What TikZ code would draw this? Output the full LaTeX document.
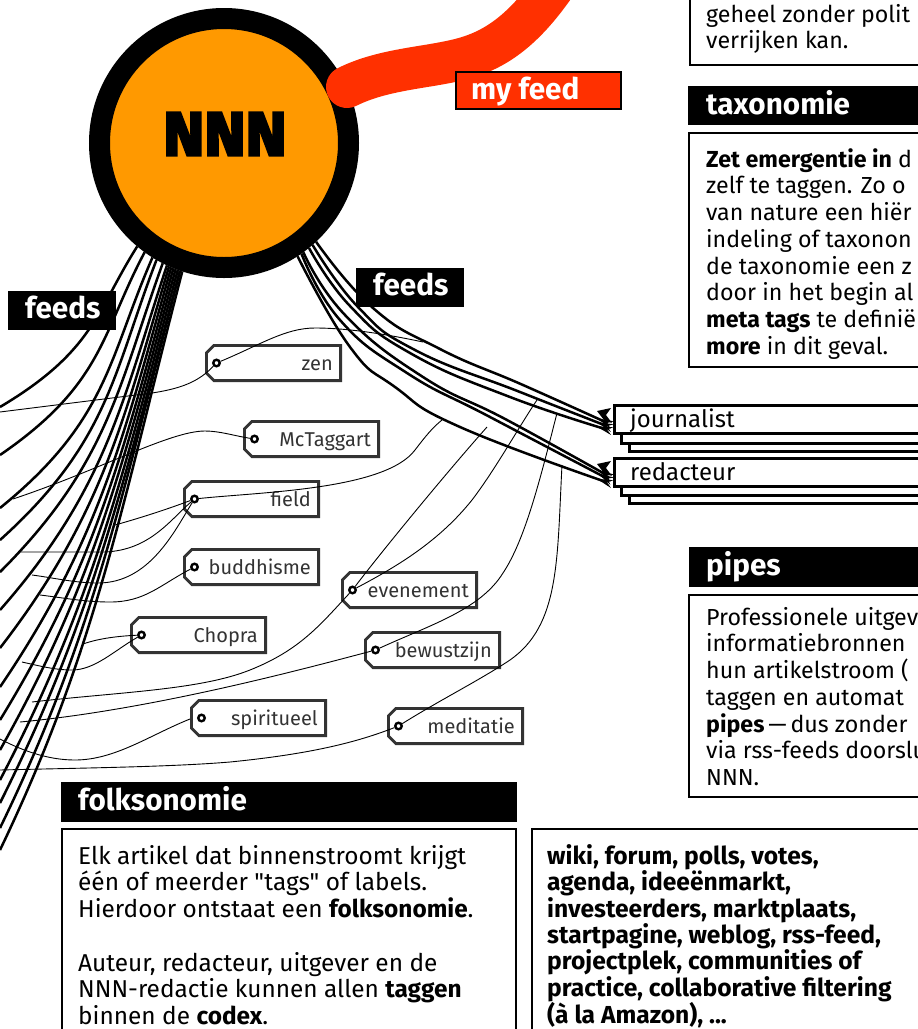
\documentclass[tikz,border=0pt]{standalone}
\usepackage{fontspec}
\setmainfont{Fira Sans}
\newfontfamily\heavyfont[BoldFeatures={FakeBold=4}]{Fira Sans}
\newfontfamily\plainq{Fira Sans}
\usetikzlibrary{arrows.meta}
\definecolor{nnnorange}{HTML}{FF9900}
\definecolor{feedred}{HTML}{FF3000}
\definecolor{tagdark}{HTML}{333333}
\newcommand{\fl}{\rule{0pt}{20pt}}
\tikzset{
  feedline/.style={black,line width=2.5pt},
  thinline/.style={black,line width=0.9pt},
  feedarrow/.style={feedline,-{Stealth[reversed,length=16pt,width=8pt]}},
  feedspike/.style={fill=black,draw=none},
  tagbox/.style={draw=tagdark,fill=white,line width=2.8pt,line join=miter},
  taglabel/.style={text=tagdark,font=\fontsize{20}{24}\selectfont,inner sep=0pt,anchor=base east},
  holenode/.style={circle,draw=black,fill=white,line width=2.4pt,minimum size=6.5pt,inner sep=0pt},
  blackhead/.style={fill=black,inner sep=0pt,anchor=north west},
  headtext/.style={text=white,font=\bfseries\fontsize{29.7}{34}\selectfont,inner sep=0pt,anchor=base west},
  panel/.style={draw=black,fill=white,line width=1.5pt,inner sep=0pt,anchor=north west},
  bodytext/.style={inner sep=0pt,anchor=north west,align=left,font=\fontsize{24.4}{26.7}\selectfont},
  sidetext/.style={bodytext,font=\fontsize{23.2}{26.7}\selectfont},
  rolebox/.style={draw=black,fill=white,line width=2.8pt,inner sep=0pt,anchor=north west,minimum width=310pt,minimum height=28pt},
  roletext/.style={inner sep=0pt,anchor=base west,font=\fontsize{24}{26}\selectfont},
}
\begin{document}
\begin{tikzpicture}[x=1pt,y=-1pt]
\useasboundingbox (0,0) rectangle (918,1029);
\clip (0,0) rectangle (918,1029);
% central node
\node[circle,draw=black,line width=21pt,fill=nnnorange,minimum size=249pt,inner sep=0pt] (nnn) at (224,143) {};
\node[inner sep=0pt,font=\heavyfont\bfseries\fontsize{62}{62}\selectfont] (nnnlabel) at (225,134) {NNN};
% left fan
\foreach \ang/\e in {230.4/407,234.2/455,238.3/508,240.7/540,243.1/572,245/610,246.4/648,247.3/687,248.3/720,249.2/750,250.1/780,251/803,251.9/828,252.8/850}{
  \pgfmathsetmacro{\sx}{224+135*cos(\ang)}
  \pgfmathsetmacro{\sy}{143-135*sin(\ang)}
  \pgfmathsetmacro{\f}{(\e-407)/443}
  \pgfmathsetmacro{\a}{0.268+0.382*(1-\f)*(1-\f)*(1-\f)}
  \pgfmathsetmacro{\b}{0.48+1.2*pow(1.001-\f,1.8)}
  \pgfmathsetmacro{\d}{\e-\sy}
  \coordinate (fanend\e) at (0,\e);
  \draw[feedline] (nnn.\ang) .. controls (\sx-\a*0.4*\d,\sy+0.4*\d) and (\b*0.35*\d,\e-0.35*\d) .. (fanend\e);
}
% role boxes
\node[rolebox] (j3) at (628,422) {};
\node[rolebox] (j2) at (620,414) {};
\node[rolebox] (journalist) at (613,404) {};
\node[roletext] (journalisttext) at (630,427) {journalist};
\node[rolebox] (r3) at (628,474) {};
\node[rolebox] (r2) at (620,466) {};
\node[rolebox] (redacteur) at (613,457) {};
\node[roletext] (redacteurtext) at (630,480) {redacteur};
% right fan
\coordinate (ja) at (612,425);\coordinate (jb) at (612,428);\coordinate (jc) at (612,431);
\coordinate (ra) at (612,478);\coordinate (rb) at (612,481);\coordinate (rc) at (612,484);
\draw[feedarrow] plot[smooth,tension=0.8] coordinates {(nnn.313.5) (373,308) (440,349) (523,385) (ja)};
\draw[feedarrow] plot[smooth,tension=0.8] coordinates {(nnn.311.1) (358,307) (415,350) (520,392) (jb)};
\draw[feedarrow] plot[smooth,tension=0.8] coordinates {(nnn.309) (350,306) (410,353) (510,397) (jc)};
\draw[feedarrow] plot[smooth,tension=0.8] coordinates {(nnn.306.6) (345,315) (423,377) (507,420) (ra)};
\draw[feedarrow] plot[smooth,tension=0.8] coordinates {(nnn.305.4) (340,320) (407,373) (490,417) (rb)};
\draw[feedarrow] plot[smooth,tension=0.8] coordinates {(nnn.303.3) (350,347) (395,387) (460,427) (rc)};
\fill[feedspike] (597,411) -- (611,408) -- (606,415) -- (612,423) -- (604,420) -- cycle;
\fill[feedspike] (597,464) -- (611,461) -- (606,468) -- (612,476) -- (604,473) -- cycle;
% my feed
\coordinate (redstart) at (347,87);
\coordinate (redend) at (565,-30);
\draw[feedred,line width=42pt,line cap=round] (redstart) .. controls (385,68) and (430,68) .. (465,58) .. controls (500,48) and (530,25) .. (redend);
\node[draw=black,line width=2.4pt,fill=feedred,minimum width=164.6pt,minimum height=36.6pt,inner sep=0pt,anchor=north west] (myfeedbox) at (455,71) {};
\node[headtext] (myfeed) at (471,99) {my feed};
% feeds labels
\node[blackhead,minimum width=108pt,minimum height=39pt] (feedsLbox) at (8,291) {};
\node[headtext] (feedsL) at (25,318) {feeds};
\node[blackhead,minimum width=108pt,minimum height=39pt] (feedsRbox) at (356,268) {};
\node[headtext] (feedsR) at (373,295) {feeds};
% tags
\foreach \n/\l/\t/\txt in {zen/205/344/zen,mct/243/420/McTaggart,field/183/480/field,bud/183/548/buddhisme,cho/130/616/Chopra,spi/190/699/spiritueel,eve/341/571/evenement,bew/364/631/bewustzijn,med/387/707/meditatie}{
  \draw[tagbox] (\l+9,\t+1.4) -- (\l+135.6,\t+1.4) -- (\l+135.6,\t+36.6) -- (\l+9,\t+36.6) -- (\l+1.4,\t+29) -- (\l+1.4,\t+9) -- cycle;
  \node[taglabel] (label\n) at (\l+128,\t+26) {\txt};
  \node[holenode] (hole\n) at (\l+11.5,\t+19) {};
}
% free ends of the thin connectors
\coordinate (spiw) at (190,719);
\foreach \c/\x/\y in {e1/423/342,e2/0/412,e3/13/499,e4/442/420,e5/115/525,e6/20/552,e7/32/575,e8/40/595,e9/83/644,e10/22/662,e11/487/427,e12/537/400,e13/32/702,e14/557/413,e15/20/722,e16/0/739,e17/562/465,e18/0/770}{
  \coordinate (\c) at (\x,\y);
}
\draw[thinline] (holezen) .. controls (260,345) and (285,328) .. (315,328) .. controls (350,328) and (390,335) .. (e1);
\draw[thinline] (holezen) .. controls (200,380) and (185,388) .. (152,393) -- (e2);
\draw[thinline] (holemct) .. controls (235,436) and (220,431) .. (205,431) .. controls (170,431) and (100,470) .. (e3);
\draw[thinline] (holefield) .. controls (260,492) and (385,490) .. (415,450) .. controls (425,437) and (432,428) .. (e4);
\draw[thinline] (holefield) .. controls (165,510) and (140,518) .. (e5);
\draw[thinline] (holefield) .. controls (170,520) and (150,550) .. (105,552) -- (e6);
\draw[thinline] (holefield) .. controls (175,530) and (150,583) .. (98,583) .. controls (75,583) and (55,578) .. (e7);
\draw[thinline] (holebud) .. controls (160,585) and (145,602) .. (110,602) .. controls (85,602) and (65,598) .. (e8);
\draw[thinline] (holecho) .. controls (120,636) and (100,638) .. (e9);
\draw[thinline] (holecho) .. controls (115,650) and (95,670) .. (72,670) .. controls (55,670) and (40,666) .. (e10);
\draw[thinline] (holeeve) .. controls (375,560) and (440,480) .. (e11);
\draw[thinline] (holeeve) .. controls (400,565) and (440,540) .. (472,500) .. controls (495,470) and (520,425) .. (e12);
\draw[thinline] (holeeve) .. controls (320,625) and (300,650) .. (250,670) .. controls (200,690) and (120,692) .. (e13);
\draw[thinline] (holebew) .. controls (430,625) and (480,610) .. (503,573) .. controls (525,540) and (540,480) .. (e14);
\draw[thinline] (holebew) .. controls (300,670) and (150,710) .. (e15);
\draw[thinline] (spiw) .. controls (150,735) and (115,760) .. (75,760) .. controls (50,760) and (25,752) .. (e16);
\draw[thinline] (holemed) .. controls (440,700) and (480,680) .. (510,660) .. controls (560,625) and (557,560) .. (e17);
\draw[thinline] (holemed) .. controls (350,745) and (300,755) .. (230,762) .. controls (170,767) and (80,768) .. (e18);
% top right panel
\node[panel,minimum width=240pt,minimum height=80pt] (toppanel) at (689,-16) {};
\node[sidetext] (toptext) at (706,2) {\fl geheel zonder polit\\verrijken kan.};
% taxonomie
\node[blackhead,minimum width=235pt,minimum height=39pt] (taxhead) at (688,86) {};
\node[headtext] (taxtitle) at (706,114) {taxonomie};
\node[panel,minimum width=240pt,minimum height=234pt] (taxpanel) at (688,132) {};
\node[sidetext] (taxtext) at (706,147) {\fl\textbf{Zet emergentie in} d\\zelf te taggen. Zo o\\van nature een hiër\\indeling of taxonon\\de taxonomie een z\\door in het begin al\\\textbf{meta tags} te definië\\\textbf{more} in dit geval.};
% pipes
\node[blackhead,minimum width=235pt,minimum height=40pt] (pipeshead) at (689,547) {};
\node[headtext] (pipestitle) at (706,575) {pipes};
\node[panel,minimum width=240pt,minimum height=202pt] (pipespanel) at (688,594) {};
\node[sidetext] (pipestext) at (706,605) {\fl Professionele uitgev\\informatiebronnen\\hun artikelstroom (\\taggen en automat\\\textbf{pipes}\,—\,dus zonder\\via rss-feeds doorslu\\NNN.};
% folksonomie
\node[blackhead,minimum width=456pt,minimum height=40pt] (folkhead) at (61,782) {};
\node[headtext] (folktitle) at (78,810) {folksonomie};
\node[panel,minimum width=454pt,minimum height=220pt] (folkpanel) at (61,828) {};
\node[bodytext] (folktext) at (78,844) {\fl Elk artikel dat binnenstroomt krijgt\\één of meerder {\plainq"tags"} of labels.\\Hierdoor ontstaat een \textbf{folksonomie}.\\[26.7pt]Auteur, redacteur, uitgever en de\\NNN-redactie kunnen allen \textbf{taggen}\\binnen de \textbf{codex}.};
% wiki
\node[panel,minimum width=400pt,minimum height=220pt] (wikipanel) at (531,828) {};
\node[bodytext,font=\bfseries\fontsize{24.6}{26.4}\selectfont] (wikitext) at (547,844) {\fl wiki, forum, polls, votes,\\agenda, ideeënmarkt,\\investeerders, marktplaats,\\startpagine, weblog, rss-feed,\\projectplek, communities of\\practice, collaborative filtering\\(à la Amazon), ...};
\end{tikzpicture}
\end{document}
